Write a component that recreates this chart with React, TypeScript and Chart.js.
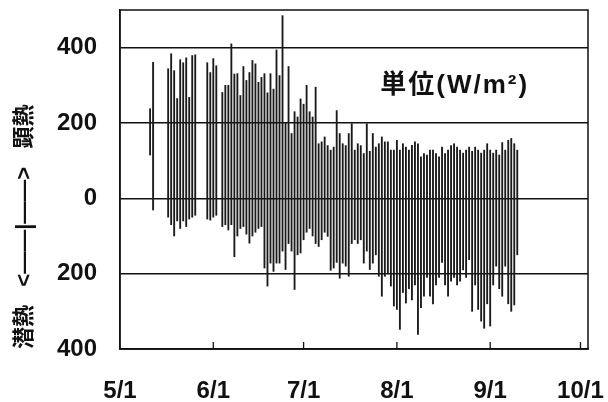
import React, { useEffect, useRef } from 'react';
import { Chart, registerables } from 'chart.js';

Chart.register(...registerables);

// x axis: days since 5/1
const monthTicks = [0, 31, 61, 92, 123, 153];
const monthLabels = ['5/1', '6/1', '7/1', '8/1', '9/1', '10/1'];
const yTicks = [-400, -200, 0, 200, 400];
const yTickLabels = ['400', '200', '0', '200', '400'];
const yTitle = '潜熱   <——|——>   顕熱';
const unitText = '単位(W/m²)';

// first day of the record (days after 5/1)
const firstDay = 10;
// daily upper end (sensible heat peak, W/m2); null = no data
const dailyHigh = [
  238, 361, null, null, null, null, 344, 384, 339, 265,
  368, 360, 373, 268, 379, 381, null, null, null, 360,
  334, 371, 352, null, 281, 300, 300, 410, 330, 331,
  273, 350, 313, 334, 366, 357, 308, 321, 331, 280,
  331, 290, 394, 326, 485, 199, 350, 172, 230, 216,
  264, 250, 300, 230, 216, 295, 145, 150, 163, 140,
  128, 136, 233, 172, 145, 140, 172, 198, 128, 145,
  140, 119, 198, 125, 172, 136, 145, 163, 150, 150,
  128, 128, 154, 128, 145, 136, 128, 141, 150, 145,
  110, 119, 115, 128, 128, 119, 110, 136, 119, 128,
  140, 145, 136, 128, 120, 128, 136, 125, 136, 128,
  120, 128, 145, 128, 120, 128, 115, 148, 128, 154,
  159, 145, 128,
];
// daily lower end (latent heat peak shown negative, W/m2)
const dailyLow = [
  115, -31, null, null, null, null, -50, -70, -100, -60,
  -80, -60, -75, -55, -50, -45, null, null, null, -55,
  -58, -50, -45, null, -75, -70, -84, -70, -155, -100,
  -80, -75, -95, -119, -100, -90, -80, -75, -185, -233,
  -172, -194, -172, -172, -140, -189, -120, -140, -242, -150,
  -145, -110, -90, -80, -100, -120, -128, -110, -90, -101,
  -191, -185, -170, -212, -172, -180, -207, -120, -110, -120,
  -110, -172, -140, -189, -172, -150, -207, -260, -207, -200,
  -233, -286, -295, -348, -250, -278, -240, -270, -230, -361,
  -290, -260, -210, -260, -280, -230, -210, -170, -230, -260,
  -220, -210, -230, -220, -190, -210, -163, -300, -230, -295,
  -326, -345, -280, -339, -230, -180, -240, -260, -180, -280,
  -300, -283, -150,
];

const FONT = "'Liberation Sans', Arial, 'Noto Sans CJK JP', sans-serif";
const INK = '#111111';

const framePlugin = {
  id: 'frameAndMarks',
  afterDraw(chart: any) {
    const { ctx, chartArea, scales } = chart;
    ctx.save();
    ctx.strokeStyle = INK;
    ctx.lineWidth = 1.5;
    ctx.strokeRect(chartArea.left, chartArea.top, chartArea.right - chartArea.left, chartArea.bottom - chartArea.top);
    // short inner tick marks on the date axis
    ctx.lineWidth = 1.3;
    monthTicks.slice(1).forEach((d) => {
      const px = scales.x.getPixelForValue(d);
      ctx.beginPath();
      ctx.moveTo(px, chartArea.bottom);
      ctx.lineTo(px, chartArea.bottom - 7);
      ctx.stroke();
    });
    // unit label inside the plot
    ctx.fillStyle = INK;
    ctx.font = `bold 26px ${FONT}`;
    try {
      (ctx as any).letterSpacing = '2px';
    } catch (e) {}
    ctx.textAlign = 'left';
    ctx.textBaseline = 'middle';
    ctx.fillText(unitText, scales.x.getPixelForValue(86.5), scales.y.getPixelForValue(300));
    ctx.restore();
  },
};

export default function App() {
  const ref = useRef<HTMLCanvasElement | null>(null);

  useEffect(() => {
    if (!ref.current) return;
    const points: { x: number; y: [number, number] }[] = [];
    dailyHigh.forEach((h, i) => {
      const l = dailyLow[i];
      if (h != null && l != null) points.push({ x: firstDay + i, y: [l, h] });
    });

    const chart = new Chart(ref.current, {
      type: 'bar',
      data: {
        datasets: [
          {
            data: points as any,
            backgroundColor: '#1a1a1a',
            borderWidth: 0,
            barThickness: 1.2,
          },
        ],
      },
      plugins: [framePlugin],
      options: {
        animation: false,
        responsive: false,
        maintainAspectRatio: false,
        layout: { padding: { top: 10, right: 20, left: 0, bottom: 0 } },
        plugins: { legend: { display: false }, tooltip: { enabled: false } },
        scales: {
          x: {
            type: 'linear',
            min: 0,
            max: 155.5,
            offset: false,
            afterBuildTicks: (s: any) => {
              s.ticks = monthTicks.map((v) => ({ value: v }));
            },
            afterFit: (s: any) => {
              s.height = 53;
              s.paddingLeft = 0;
              s.paddingRight = 0;
            },
            ticks: {
              autoSkip: false,
              maxRotation: 0,
              padding: 28,
              color: INK,
              font: { family: FONT, size: 24, weight: 'bold' },
              callback: (v: any) => {
                const i = monthTicks.indexOf(Number(v));
                return i >= 0 ? monthLabels[i] : '';
              },
            },
            grid: { display: false, drawTicks: false },
            border: { display: true, color: INK, width: 1.5 },
          },
          y: {
            min: -400,
            max: 500,
            afterBuildTicks: (s: any) => {
              s.ticks = yTicks.map((v) => ({ value: v }));
            },
            afterFit: (s: any) => {
              s.width = 120;
              s.paddingTop = 0;
              s.paddingBottom = 0;
            },
            ticks: {
              padding: 23,
              color: INK,
              font: { family: FONT, size: 24, weight: 'bold' },
              callback: (v: any) => {
                const i = yTicks.indexOf(Number(v));
                return i >= 0 ? yTickLabels[i] : '';
              },
            },
            grid: { color: INK, lineWidth: 1.5, drawTicks: false },
            border: { display: true, color: INK, width: 1.5 },
            title: {
              display: true,
              text: yTitle,
              align: 'start',
              color: INK,
              font: { family: FONT, size: 22, weight: 'bold' },
              padding: { top: 12, bottom: 0 },
            },
          },
        },
      },
    });
    return () => chart.destroy();
  }, []);

  return (
    <div style={{ position: 'fixed', left: 0, top: 0, width: 608, height: 402, background: '#fff' }}>
      <canvas ref={ref} width={608} height={402} style={{ display: 'block' }} />
    </div>
  );
}
